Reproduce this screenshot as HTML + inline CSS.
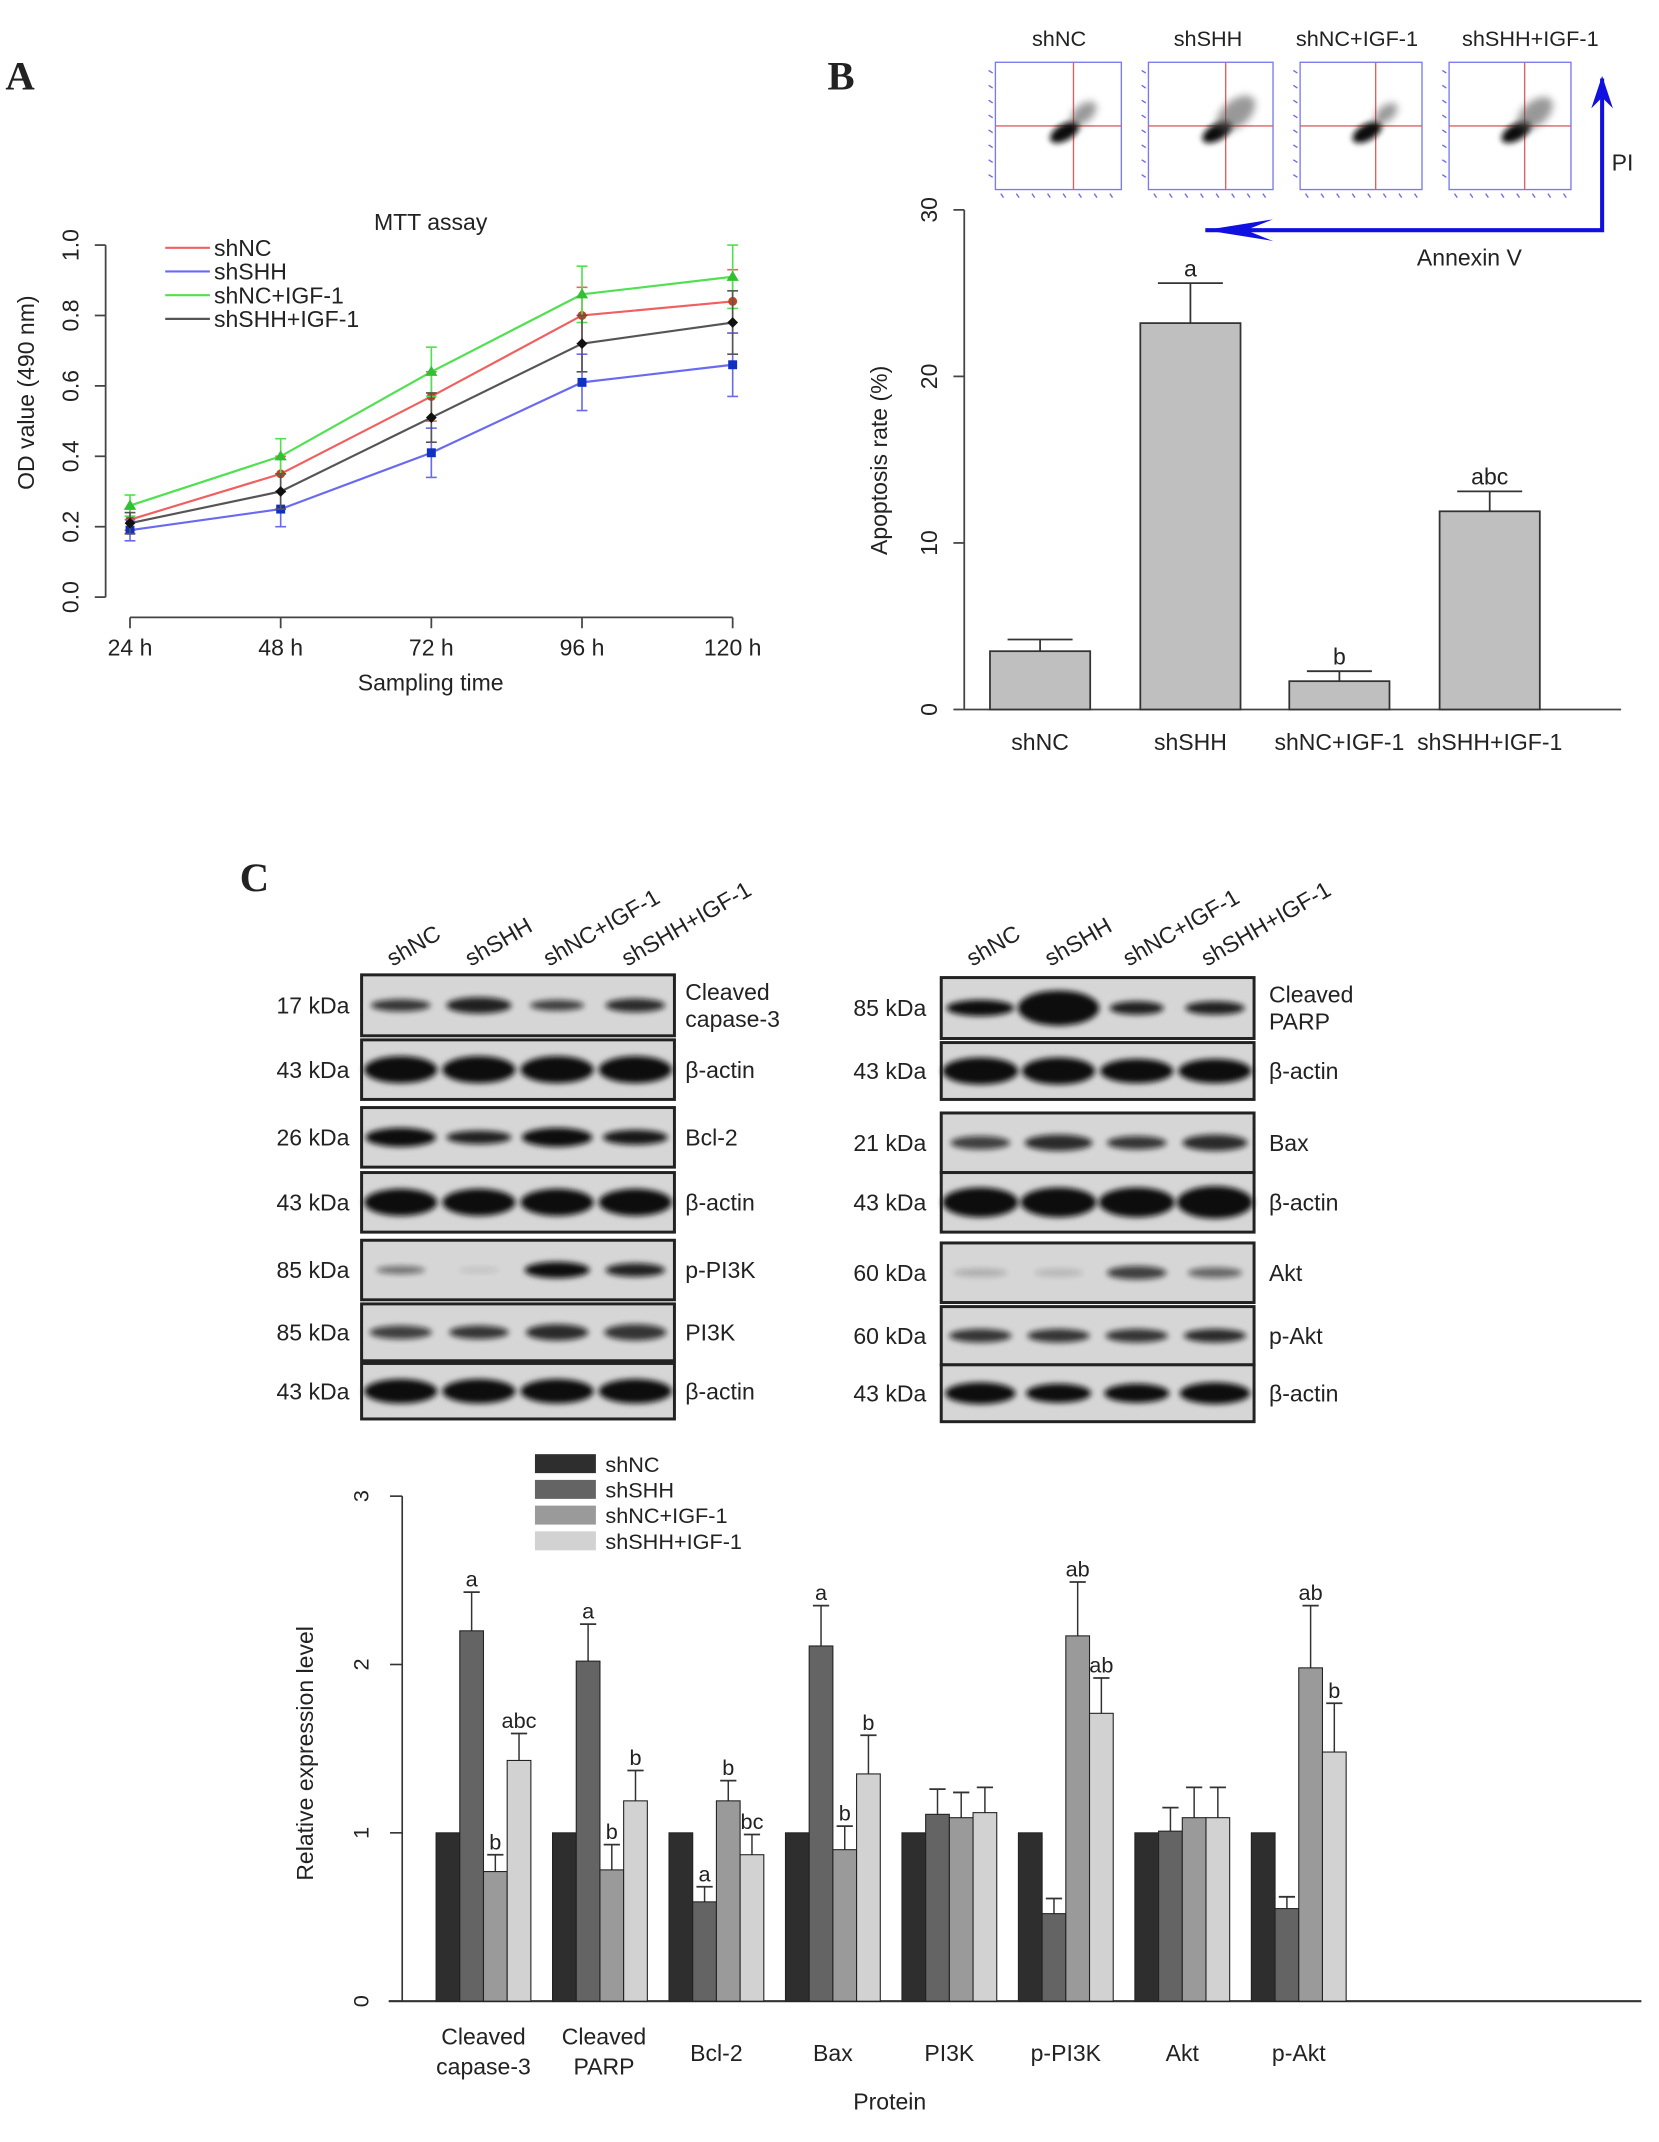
<!DOCTYPE html>
<html><head><meta charset="utf-8"><style>
html,body{margin:0;padding:0;background:#fff}
svg{display:block}
text{font-family:"Liberation Sans",Arial,sans-serif;fill:#222}
</style></head><body>
<svg id="fig" width="1659" height="2142" viewBox="0 0 1225 1582" preserveAspectRatio="none" xmlns="http://www.w3.org/2000/svg">
<defs>
<filter id="blur" x="-30%" y="-60%" width="160%" height="220%"><feGaussianBlur stdDeviation="2.2"/></filter>
<filter id="blur2" x="-30%" y="-60%" width="160%" height="220%"><feGaussianBlur stdDeviation="3"/></filter>
</defs>
<text x="4" y="66" style="font-family:'Liberation Serif',serif;font-weight:bold;font-size:30px">A</text>
<text x="611" y="66" style="font-family:'Liberation Serif',serif;font-weight:bold;font-size:30px">B</text>
<text x="177" y="658" style="font-family:'Liberation Serif',serif;font-weight:bold;font-size:30px">C</text>
<g id="gA"></g>
<g id="gB"></g>
<g id="gF"></g>
<g id="gW"></g>
<g id="gC"></g>
</svg>
<script>
// ---- Panel A data ----
const mttTimes = ["24 h","48 h","72 h","96 h","120 h"];
const mttGroups = ["shNC","shSHH","shNC+IGF-1","shSHH+IGF-1"];
const mttShNC = [0.22,0.35,0.57,0.80,0.84];
const mttShSHH = [0.19,0.25,0.41,0.61,0.66];
const mttShNCIGF = [0.26,0.40,0.64,0.86,0.91];
const mttShSHHIGF = [0.21,0.30,0.51,0.72,0.78];
const mttErr = [0.03,0.05,0.07,0.08,0.09];
const mttYTicks = ["0.0","0.2","0.4","0.6","0.8","1.0"];
// ---- Panel B data ----
const apoGroups = ["shNC","shSHH","shNC+IGF-1","shSHH+IGF-1"];
const apoValues = [3.5,23.2,1.7,11.9];
const apoErr = [0.7,2.4,0.6,1.2];
const apoLabels = ["","a","b","abc"];
const apoYTicks = [0,10,20,30];
// ---- Panel C data ----
const proteins = ["Cleaved|capase-3","Cleaved|PARP","Bcl-2","Bax","PI3K","p-PI3K","Akt","p-Akt"];
const expShNC = [1,1,1,1,1,1,1,1];
const expShSHH = [2.2,2.02,0.59,2.11,1.11,0.52,1.01,0.55];
const expShNCIGF = [0.77,0.78,1.19,0.90,1.09,2.17,1.09,1.98];
const expShSHHIGF = [1.43,1.19,0.87,1.35,1.12,1.71,1.09,1.48];
const errShSHH = [0.23,0.22,0.09,0.24,0.15,0.09,0.14,0.07];
const errShNCIGF = [0.10,0.15,0.12,0.14,0.15,0.32,0.18,0.37];
const errShSHHIGF = [0.16,0.18,0.12,0.23,0.15,0.21,0.18,0.29];
const sigShSHH = ["a","a","a","a","","","",""];
const sigShNCIGF = ["b","b","b","b","","ab","","ab"];
const sigShSHHIGF = ["abc","b","bc","b","","ab","","b"];
const expYTicks = [0,1,2,3];

const NS="http://www.w3.org/2000/svg";
function mk(parent,tag,attrs,txt){const e=document.createElementNS(NS,tag);for(const k in attrs)e.setAttribute(k,attrs[k]);if(txt!==undefined)e.textContent=txt;parent.appendChild(e);return e;}

// ===== Panel A =====
(function(){
const g=document.getElementById('gA');
const x0=96,x1=541,yTop=181,yBot=441;
const xs=i=>x0+(x1-x0)*i/(mttTimes.length-1);
const ys=v=>yBot-(yBot-yTop)*v;
let ax=mk(g,'line',{x1:78,y1:ys(0),x2:78,y2:ys(1),stroke:'#444','stroke-width':1.3});

mttYTicks.forEach((t,i)=>{const v=i*0.2;
 mk(g,'line',{x1:70,y1:ys(v),x2:78,y2:ys(v),stroke:'#444','stroke-width':1.3});
 let tx=mk(g,'text',{x:58,y:ys(v),'font-size':17,'text-anchor':'middle',transform:`rotate(-90 58 ${ys(v)})`},t);
 });
let xa=mk(g,'line',{x1:x0,y1:456,x2:x1,y2:456,stroke:'#444','stroke-width':1.3});

mttTimes.forEach((t,i)=>{mk(g,'line',{x1:xs(i),y1:456,x2:xs(i),y2:464,stroke:'#444','stroke-width':1.3});
 let tx=mk(g,'text',{x:xs(i),y:484,'font-size':17,'text-anchor':'middle'},t);
 });
let yl=mk(g,'text',{x:25,y:290,'font-size':17,'text-anchor':'middle',transform:'rotate(-90 25 290)'},'OD value (490 nm)');

let xl=mk(g,'text',{x:318,y:510,'font-size':17,'text-anchor':'middle'},'Sampling time');

let tt=mk(g,'text',{x:318,y:170,'font-size':17,'text-anchor':'middle'},'MTT assay');

const series=[mttShNC,mttShSHH,mttShNCIGF,mttShSHHIGF];
const cols=['#f06060','#6a6af0','#50e050','#555'];
const mcols=['#c04020','#1030c0','#30c030','#111'];
series.forEach((s,k)=>{
 let pts=s.map((v,i)=>xs(i)+','+ys(v)).join(' ');
 let pl=mk(g,'polyline',{points:pts,fill:'none',stroke:cols[k],'stroke-width':1.6});
 
 s.forEach((v,i)=>{const x=xs(i);
  mk(g,'line',{x1:x,y1:ys(v-mttErr[i]),x2:x,y2:ys(v+mttErr[i]),stroke:cols[k],'stroke-width':1.2});
  [v-mttErr[i],v+mttErr[i]].forEach(e=>mk(g,'line',{x1:x-4,y1:ys(e),x2:x+4,y2:ys(e),stroke:cols[k],'stroke-width':1.2}));
  let m;
  if(k===0) m=mk(g,'circle',{cx:x,cy:ys(v),r:3.3,fill:mcols[k]});
  else if(k===1) m=mk(g,'rect',{x:x-3.3,y:ys(v)-3.3,width:6.6,height:6.6,fill:mcols[k]});
  else if(k===2) m=mk(g,'polygon',{points:`${x},${ys(v)-4.5} ${x-4.5},${ys(v)+3} ${x+4.5},${ys(v)+3}`,fill:mcols[k]});
  else m=mk(g,'polygon',{points:`${x},${ys(v)-4} ${x+4},${ys(v)} ${x},${ys(v)+4} ${x-4},${ys(v)}`,fill:mcols[k]});
  });
 const ly=183+k*17.5;
 mk(g,'line',{x1:122,y1:ly,x2:155,y2:ly,stroke:cols[k],'stroke-width':1.6});
 let lt=mk(g,'text',{x:158,y:ly+6,'font-size':17},mttGroups[k]);
 
});
})();

// ===== Panel B =====
(function(){
const g=document.getElementById('gB');
const yTop=155,yBot=524,xa=712;
const ys=v=>yBot-(yBot-yTop)*v/30;
const bx=[731,842,952,1063],bw=74;
let ax=mk(g,'line',{x1:xa,y1:ys(0),x2:xa,y2:ys(30),stroke:'#444','stroke-width':1.3});

apoYTicks.forEach(t=>{mk(g,'line',{x1:xa-8,y1:ys(t),x2:xa,y2:ys(t),stroke:'#444','stroke-width':1.3});
 let tx=mk(g,'text',{x:692,y:ys(t),'font-size':17,'text-anchor':'middle',transform:`rotate(-90 692 ${ys(t)})`},String(t));
 });
let xl=mk(g,'line',{x1:xa,y1:yBot,x2:1197,y2:yBot,stroke:'#444','stroke-width':1.3});

let yl=mk(g,'text',{x:655,y:340,'font-size':17,'text-anchor':'middle',transform:'rotate(-90 655 340)'},'Apoptosis rate (%)');

apoValues.forEach((v,i)=>{const x=bx[i],cx=x+bw/2,top=ys(v+apoErr[i]);
 mk(g,'line',{x1:cx,y1:ys(v),x2:cx,y2:top,stroke:'#333','stroke-width':1.3});
 mk(g,'line',{x1:cx-24,y1:top,x2:cx+24,y2:top,stroke:'#333','stroke-width':1.3});
 let r=mk(g,'rect',{x:x,y:ys(v),width:bw,height:yBot-ys(v),fill:'#bfbfbf',stroke:'#333','stroke-width':1.3});
 
 if(apoLabels[i]){let t=mk(g,'text',{x:cx,y:top-5,'font-size':17,'text-anchor':'middle'},apoLabels[i]);
  }
 let t=mk(g,'text',{x:cx,y:554,'font-size':17,'text-anchor':'middle'},apoGroups[i]);
 
});
})();

// ===== Flow plots =====
(function(){
const g=document.getElementById('gF');
const boxes=[[735,828],[848,940],[960,1050],[1070,1160]];
const titles=["shNC","shSHH","shNC+IGF-1","shSHH+IGF-1"];
const tcx=[782,892,1002,1130];
const spread=[0.8,1.2,0.7,1.1];
boxes.forEach((b,i)=>{const x=b[0],w=b[1]-b[0],y=46,h=94;
 let r=mk(g,'rect',{x:x,y:y,width:w,height:h,fill:'#fff',stroke:'#7a7af0','stroke-width':1});
 
 mk(g,'line',{x1:x+w*0.62,y1:y,x2:x+w*0.62,y2:y+h,stroke:'#e06060','stroke-width':1});
 mk(g,'line',{x1:x,y1:y+h*0.5,x2:x+w,y2:y+h*0.5,stroke:'#e06060','stroke-width':1});
 for(let k=0;k<8;k++){mk(g,'line',{x1:x-5,y1:y+6+k*11,x2:x-2,y2:y+8+k*11,stroke:'#6a6af0','stroke-width':1});
  mk(g,'line',{x1:x+4+k*11.5,y1:y+h+3,x2:x+6+k*11.5,y2:y+h+6,stroke:'#6a6af0','stroke-width':1});}
 const cx=x+w*0.55,cy=y+h*0.55;
 mk(g,'ellipse',{cx:cx,cy:cy,rx:12,ry:6,fill:'#111',transform:`rotate(-30 ${cx} ${cy})`,filter:'url(#blur)'});
 mk(g,'ellipse',{cx:cx+14,cy:cy-14,rx:14*spread[i],ry:8*spread[i],fill:'#555',opacity:0.6,transform:`rotate(-40 ${cx+14} ${cy-14})`,filter:'url(#blur2)'});
 let t=mk(g,'text',{x:tcx[i],y:34,'font-size':16,'text-anchor':'middle'},titles[i]);
 
});
let a=mk(g,'path',{d:'M890 170 L1183 170 L1183 58',fill:'none',stroke:'#1010e0','stroke-width':3});

mk(g,'polygon',{points:'890,170 940,162 920,170 940,178',fill:'#1010e0'});
mk(g,'polygon',{points:'1183,56 1175,80 1183,72 1191,80',fill:'#1010e0'});
let pi=mk(g,'text',{x:1190,y:126,'font-size':17},'PI');
let an=mk(g,'text',{x:1085,y:196,'font-size':17,'text-anchor':'middle'},'Annexin V');
})();

// ===== Western blots =====
(function(){
const g=document.getElementById('gW');
const lanes=["shNC","shSHH","shNC+IGF-1","shSHH+IGF-1"];
const left={x:267,w:231,lab:506,kd:258,rows:[
 [720,765,"17 kDa","Cleaved|capase-3",[[22,4.5,.8],[24,6,.9],[20,4,.75],[22,5,.85]]],
 [768,812,"43 kDa","β-actin",[[27,10,1],[27,10,1],[27,10,1],[27,10,1]]],
 [818,862,"26 kDa","Bcl-2",[[26,7,1],[24,5,.9],[26,7,1],[24,5.5,.95]]],
 [866,910,"43 kDa","β-actin",[[27,10,1],[27,10,1],[27,10,1],[27,10,1]]],
 [916,960,"85 kDa","p-PI3K",[[18,3,.5],[15,2,.1],[24,6,1],[22,5,.9]]],
 [963,1005,"85 kDa","PI3K",[[23,5,.75],[22,5,.8],[23,6,.85],[23,6,.8]]],
 [1007,1048,"43 kDa","β-actin",[[27,9,1],[27,9,1],[27,9,1],[27,9,1]]]]};
const right={x:695,w:231,lab:937,kd:684,rows:[
 [722,767,"85 kDa","Cleaved|PARP",[[25,6,1],[30,13,1],[20,5,.9],[22,5,.9]]],
 [770,812,"43 kDa","β-actin",[[28,10,1],[27,10,1],[27,9,1],[27,9,1]]],
 [822,866,"21 kDa","Bax",[[22,5,.75],[25,6,.85],[22,5,.8],[24,6,.85]]],
 [866,910,"43 kDa","β-actin",[[28,11,1],[28,11,1],[28,11,1],[28,12,1]]],
 [918,962,"60 kDa","Akt",[[20,3,.2],[18,3,.15],[22,5,.75],[20,4,.55]]],
 [965,1008,"60 kDa","p-Akt",[[23,5,.8],[23,5,.8],[23,5,.8],[23,5,.85]]],
 [1008,1050,"43 kDa","β-actin",[[26,8,1],[24,7,1],[24,7,1],[26,8,1]]]]};
[left,right].forEach((P,pi)=>{
 lanes.forEach((l,i)=>{const lx=P.x+P.w*(i+0.5)/4-6;
  let t=mk(g,'text',{x:lx,y:714,'font-size':17,transform:`rotate(-30 ${lx} 714)`},l);
  });
 P.rows.forEach(r=>{const y=r[0],h=r[1]-r[0];
  let b=mk(g,'rect',{x:P.x,y:y,width:P.w,height:h,fill:'#d6d6d6',stroke:'#222','stroke-width':2.2});
  
  r[4].forEach((bd,i)=>{const cx=P.x+P.w*(i+0.5)/4;
   let e=mk(g,'ellipse',{cx:cx,cy:y+h/2,rx:bd[0],ry:bd[1],fill:'#111',opacity:bd[2],filter:'url(#blur)'});
   });
  let k=mk(g,'text',{x:P.kd,y:y+h/2+6,'font-size':17,'text-anchor':'end'},r[2]);
  
  const parts=r[3].split('|');
  parts.forEach((p,j)=>{let t=mk(g,'text',{x:P.lab,y:y+h/2+6+(parts.length>1?(j-0.5)*20:0),'font-size':17},p);
   });
 });
});
})();

// ===== Panel C chart =====
(function(){
const g=document.getElementById('gC');
const yTop=1105,yBot=1478,xa=297;
const ys=v=>yBot-(yBot-yTop)*v/3;
const gx=i=>322+i*86, bw=17.5;
const fills=['#2e2e2e','#646464','#9a9a9a','#d2d2d2'];
const names=['shNC','shSHH','shNC+IGF-1','shSHH+IGF-1'];
let ax=mk(g,'line',{x1:xa,y1:ys(0),x2:xa,y2:ys(3),stroke:'#333','stroke-width':1.2});

expYTicks.forEach(t=>{mk(g,'line',{x1:xa-9,y1:ys(t),x2:xa,y2:ys(t),stroke:'#333','stroke-width':1.2});
 let tx=mk(g,'text',{x:272,y:ys(t),'font-size':16,'text-anchor':'middle',transform:`rotate(-90 272 ${ys(t)})`},String(t));
 });
let xl=mk(g,'line',{x1:xa-10,y1:yBot,x2:1212,y2:yBot,stroke:'#333','stroke-width':1.5});

let yl=mk(g,'text',{x:231,y:1295,'font-size':17,'text-anchor':'middle',transform:'rotate(-90 231 1295)'},'Relative expression level');

let pt=mk(g,'text',{x:657,y:1558,'font-size':17,'text-anchor':'middle'},'Protein');

const vals=[expShNC,expShSHH,expShNCIGF,expShSHHIGF];
const errs=[null,errShSHH,errShNCIGF,errShSHHIGF];
const sigs=[null,sigShSHH,sigShNCIGF,sigShSHHIGF];
proteins.forEach((p,i)=>{
 vals.forEach((arr,k)=>{const v=arr[i],x=gx(i)+k*bw,cx=x+bw/2;
  let top=ys(v);
  if(errs[k]){top=ys(v+errs[k][i]);
   mk(g,'line',{x1:cx,y1:ys(v),x2:cx,y2:top,stroke:'#333','stroke-width':1.1});
   mk(g,'line',{x1:cx-6,y1:top,x2:cx+6,y2:top,stroke:'#333','stroke-width':1.3});}
  let r=mk(g,'rect',{x:x,y:ys(v),width:bw,height:yBot-ys(v),fill:fills[k],stroke:'#222','stroke-width':0.8});
  
  if(sigs[k]&&sigs[k][i]){let t=mk(g,'text',{x:cx,y:top-4,'font-size':16,'text-anchor':'middle'},sigs[k][i]);
   }
 });
 const parts=p.split('|'),cx=gx(i)+2*bw;
 parts.forEach((s,j)=>{let t=mk(g,'text',{x:parts.length>1?(i===0?cx:cx+3):cx,y:parts.length>1?1510+j*22:1522,'font-size':17,'text-anchor':'middle'},s);
  });
});
names.forEach((n,k)=>{const y=1074+k*19;
 let r=mk(g,'rect',{x:395,y:y,width:45,height:14,fill:fills[k]});
 
 let t=mk(g,'text',{x:447,y:y+13,'font-size':16},n);
 });
})();
</script>
</body></html>
